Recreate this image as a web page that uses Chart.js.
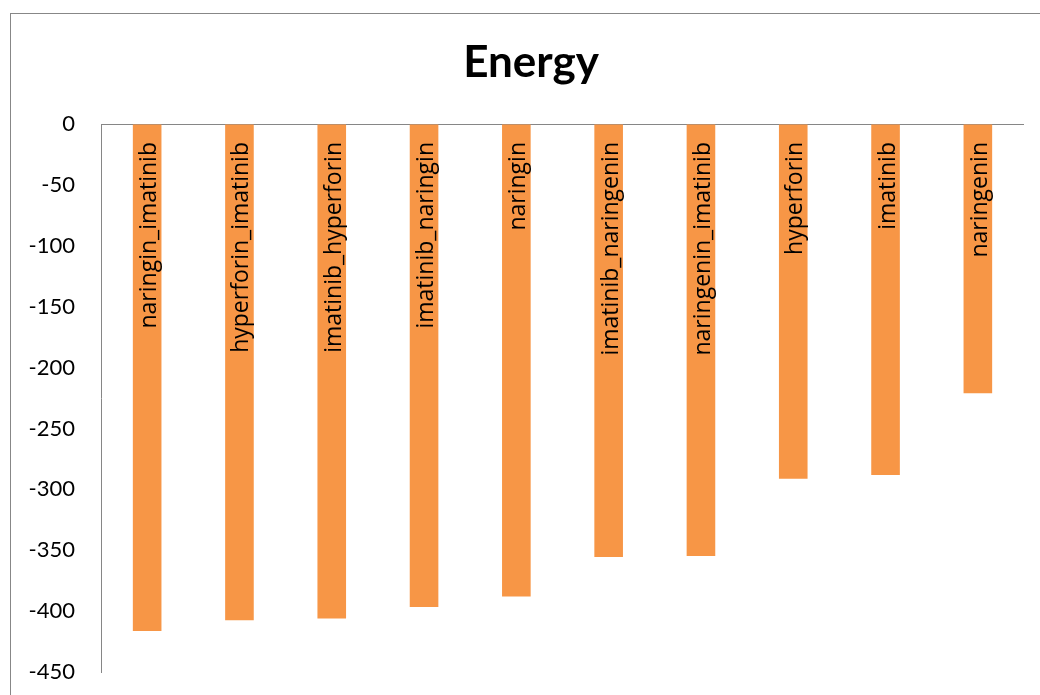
<!DOCTYPE html>
<html>
<head>
<meta charset="utf-8">
<script src="https://cdn.jsdelivr.net/npm/chart.js@4.4.1/dist/chart.umd.min.js"></script>
<style>
  html, body { margin: 0; padding: 0; background: #fff; overflow: hidden; }
  #frame { position: absolute; left: 10px; top: 13px; width: 1200px; height: 900px; border: 1px solid #878787; }
  #wrap { position: absolute; left: 0; top: 0; width: 1040px; height: 695px; }
</style>
</head>
<body>
<div id="frame"></div>
<div id="wrap"><canvas id="chart"></canvas></div>
<script>
const chartTitle = 'Energy';
const categories = ['naringin_imatinib', 'hyperforin_imatinib', 'imatinib_hyperforin', 'imatinib_naringin',
  'naringin', 'imatinib_naringenin', 'naringenin_imatinib', 'hyperforin', 'imatinib', 'naringenin'];
const energy = [-416.3, -407.5, -406, -396.6, -388, -355.5, -354.8, -291.3, -288.2, -221];
const yTicks = [0, -50, -100, -150, -200, -250, -300, -350, -400, -450];

const fontName = 'Lato, "Open Sans", sans-serif';
const labelFont = '"Open Sans", Lato, sans-serif';

// title and in-bar category names
const extras = {
  id: 'extras',
  afterDatasetsDraw(chart) {
    const ctx = chart.ctx;
    const y0 = chart.scales.y.getPixelForValue(0);
    ctx.save();
    ctx.fillStyle = '#000';
    ctx.font = 'bold 44px ' + fontName;
    ctx.textAlign = 'center';
    ctx.textBaseline = 'middle';
    ctx.fillText(chartTitle, 531, 63);

    ctx.font = '23px ' + labelFont;
    ctx.textAlign = 'right';
    ctx.textBaseline = 'alphabetic';
    chart.getDatasetMeta(0).data.forEach((bar, i) => {
      ctx.save();
      ctx.translate(bar.x + 9, y0 + 18);
      ctx.rotate(-Math.PI / 2);
      ctx.fillText(categories[i], 0, 0);
      ctx.restore();
    });
    ctx.restore();
  }
};

new Chart(document.getElementById('chart'), {
  type: 'bar',
  data: {
    labels: categories,
    datasets: [{
      data: energy,
      backgroundColor: '#F79646',
      categoryPercentage: 1,
      barPercentage: 0.31
    }]
  },
  options: {
    responsive: true,
    maintainAspectRatio: false,
    animation: false,
    layout: { padding: { left: 0, right: 16, top: 124, bottom: 23 } },
    plugins: { legend: { display: false }, title: { display: false }, tooltip: { enabled: false } },
    scales: {
      x: { display: false },
      y: {
        min: -450,
        max: 0,
        afterFit: s => { s.width = 101; s.paddingTop = 0; s.paddingBottom = 0; },
        afterBuildTicks: s => { s.ticks = yTicks.map(v => ({ value: v })); },
        border: { display: true, color: '#868686', width: 1 },
        grid: {
          drawTicks: false,
          color: c => (c.tick && c.tick.value === 0 ? '#868686' : 'rgba(0,0,0,0)')
        },
        ticks: {
          padding: 26,
          color: '#000',
          font: { family: fontName, size: 22 }
        }
      }
    }
  },
  plugins: [extras]
});
</script>
</body>
</html>
